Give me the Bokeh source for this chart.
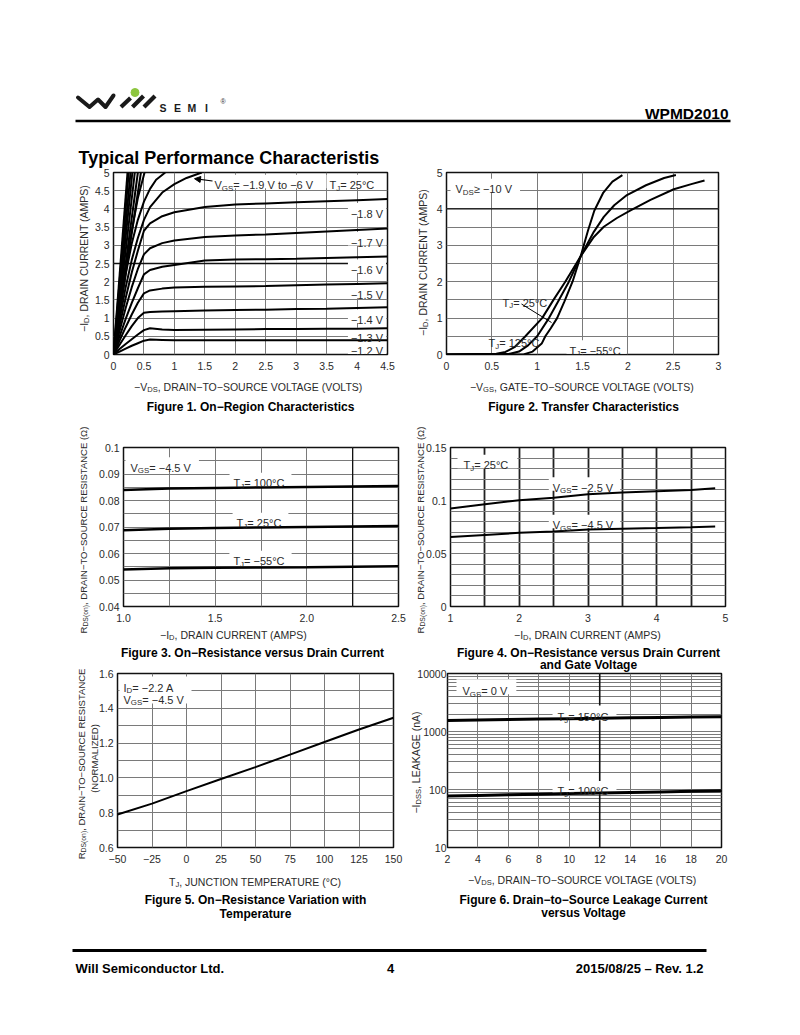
import math
from bokeh.plotting import figure
from bokeh.models import Range1d, FixedTicker, Label, Arrow, NormalHead, Span, GridBox
from bokeh.embed import file_html
from bokeh.resources import INLINE

FONT = "Liberation Sans"
TXT = "#2b2b2b"
GRID = "#7a7a7a"

# ---------------- Figure 1 data: On-Region Characteristics ----------------
F1_VDS = [0, 0.1, 0.2, 0.3, 0.4, 0.5, 0.6, 0.8, 1.0, 1.5, 2.0, 2.5, 3.0, 3.5, 4.0, 4.5]
F1_ID_M12 = [0, 0.08, 0.16, 0.24, 0.31, 0.38, 0.41, 0.40, 0.39, 0.39, 0.39, 0.39, 0.39, 0.39, 0.39, 0.39]
F1_ID_M13 = [0, 0.15, 0.29, 0.42, 0.55, 0.67, 0.72, 0.69, 0.67, 0.68, 0.69, 0.70, 0.70, 0.71, 0.71, 0.72]
F1_ID_M14 = [0, 0.27, 0.53, 0.78, 1.00, 1.15, 1.17, 1.18, 1.19, 1.21, 1.22, 1.23, 1.25, 1.26, 1.28, 1.30]
F1_ID_M15 = [0, 0.38, 0.75, 1.10, 1.42, 1.68, 1.76, 1.81, 1.84, 1.86, 1.87, 1.88, 1.90, 1.92, 1.94, 1.96]
F1_ID_M16 = [0, 0.50, 0.98, 1.42, 1.82, 2.20, 2.32, 2.41, 2.46, 2.58, 2.61, 2.62, 2.63, 2.65, 2.67, 2.69]
F1_ID_M17 = [0, 0.65, 1.28, 1.85, 2.35, 2.75, 2.92, 3.06, 3.13, 3.23, 3.27, 3.30, 3.34, 3.38, 3.42, 3.46]
F1_ID_M18 = [0, 0.80, 1.55, 2.25, 2.85, 3.40, 3.60, 3.80, 3.91, 4.05, 4.12, 4.15, 4.18, 4.21, 4.24, 4.27]
F1_M19_VDS = [0, 0.1, 0.2, 0.3, 0.4, 0.5, 0.6, 0.8, 1.0, 1.2, 1.45]
F1_M19_ID = [0, 0.95, 1.85, 2.60, 3.20, 3.70, 4.05, 4.45, 4.68, 4.85, 5.0]
F1_M20_VDS = [0, 0.1, 0.2, 0.3, 0.4, 0.5, 0.6, 0.7, 0.85]
F1_M20_ID = [0, 1.15, 2.20, 3.05, 3.70, 4.20, 4.55, 4.80, 5.0]
F1_M25_VDS = [0, 0.1, 0.2, 0.3, 0.4, 0.51]
F1_M25_ID = [0, 1.25, 2.40, 3.40, 4.30, 5.0]
F1_STEEP_VDS = [[0, 0.45], [0, 0.40], [0, 0.35], [0, 0.31], [0, 0.28], [0, 0.25], [0, 0.23]]
F1_STEEP_ID = [[0, 5.0], [0, 5.0], [0, 5.0], [0, 5.0], [0, 5.0], [0, 5.0], [0, 5.0]]
F1_XT = [0, 0.5, 1, 1.5, 2, 2.5, 3, 3.5, 4, 4.5]
F1_XL = ["0", "0.5", "1", "1.5", "2", "2.5", "3", "3.5", "4", "4.5"]
F1_YT = [0, 0.5, 1, 1.5, 2, 2.5, 3, 3.5, 4, 4.5, 5]
F1_YL = ["0", "0.5", "1", "1.5", "2", "2.5", "3", "3.5", "4", "4.5", "5"]
F1_CURVE_LABELS = ["−1.8 V", "−1.7 V", "−1.6 V", "−1.5 V", "−1.4 V", "−1.3 V", "−1.2 V"]

# ---------------- Figure 2 data: Transfer Characteristics ----------------
F2_VGS_M55 = [0, 0.85, 0.95, 1.05, 1.09, 1.15, 1.22, 1.30, 1.39, 1.48, 1.56, 1.63, 1.73, 1.83, 1.94]
F2_ID_M55 = [0, 0, 0.08, 0.30, 0.50, 0.72, 1.00, 1.45, 2.00, 2.70, 3.40, 3.95, 4.45, 4.75, 4.93]
F2_VGS_25 = [0, 0.70, 0.80, 0.90, 1.00, 1.13, 1.24, 1.35, 1.48, 1.625, 1.735, 1.85, 1.99, 2.20, 2.40, 2.53]
F2_ID_25 = [0, 0.02, 0.08, 0.25, 0.50, 1.00, 1.50, 2.00, 2.70, 3.37, 3.78, 4.10, 4.38, 4.65, 4.85, 4.93]
F2_VGS_125 = [0, 0.55, 0.65, 0.75, 0.87, 1.055, 1.18, 1.31, 1.48, 1.625, 1.735, 1.88, 2.03, 2.25, 2.507, 2.70, 2.846]
F2_ID_125 = [0, 0.02, 0.07, 0.20, 0.50, 1.00, 1.50, 2.00, 2.70, 3.23, 3.51, 3.75, 3.96, 4.25, 4.54, 4.68, 4.78]
F2_XT = [0, 0.5, 1, 1.5, 2, 2.5, 3]
F2_XL = ["0", "0.5", "1", "1.5", "2", "2.5", "3"]
F2_YT = [0, 1, 2, 3, 4, 5]
F2_YL = ["0", "1", "2", "3", "4", "5"]

# ---------------- Figure 3 data: On-Resistance vs Drain Current ----------------
F3_ID = [1.0, 1.25, 1.5, 1.75, 2.0, 2.25, 2.5]
F3_R_100 = [0.0840, 0.0845, 0.0847, 0.0849, 0.0851, 0.0853, 0.0855]
F3_R_25 = [0.0688, 0.0693, 0.0696, 0.0698, 0.0700, 0.0702, 0.0704]
F3_R_M55 = [0.0540, 0.0544, 0.0546, 0.0547, 0.0548, 0.0550, 0.0552]
F3_XT = [1.0, 1.5, 2.0, 2.5]
F3_XL = ["1.0", "1.5", "2.0", "2.5"]
F3_YT = [0.04, 0.05, 0.06, 0.07, 0.08, 0.09, 0.1]
F3_YL = ["0.04", "0.05", "0.06", "0.07", "0.08", "0.09", "0.1"]

# ---------------- Figure 4 data: On-Resistance vs Drain Current and Gate Voltage ----------------
F4_ID = [1, 1.5, 2, 2.5, 3, 3.5, 4, 4.5, 4.85]
F4_R_VGS25 = [0.0925, 0.0965, 0.1003, 0.1025, 0.1058, 0.1075, 0.1088, 0.1100, 0.1115]
F4_R_VGS45 = [0.0655, 0.0675, 0.0695, 0.0708, 0.0726, 0.0733, 0.0740, 0.0748, 0.0755]
F4_XT = [1, 2, 3, 4, 5]
F4_XL = ["1", "2", "3", "4", "5"]
F4_YT = [0, 0.05, 0.1, 0.15]
F4_YL = ["0", "0.05", "0.1", "0.15"]

# ---------------- Figure 5 data: On-Resistance vs Temperature ----------------
F5_TJ = [-50, -25, 0, 25, 50, 75, 100, 125, 150]
F5_RNORM = [0.79, 0.852, 0.924, 0.994, 1.062, 1.134, 1.206, 1.278, 1.346]
F5_XT = [-50, -25, 0, 25, 50, 75, 100, 125, 150]
F5_XL = ["−50", "−25", "0", "25", "50", "75", "100", "125", "150"]
F5_YT = [0.6, 0.8, 1.0, 1.2, 1.4, 1.6]
F5_YL = ["0.6", "0.8", "1.0", "1.2", "1.4", "1.6"]

# ---------------- Figure 6 data: Drain-to-Source Leakage ----------------
F6_VDS = [2, 4, 6, 8, 10, 12, 14, 16, 18, 20]
F6_IDSS_150 = [1550, 1580, 1610, 1640, 1665, 1690, 1720, 1745, 1775, 1800]
F6_IDSS_100 = [77, 79, 81, 83, 85, 87, 89, 91, 93, 95]
F6_XT = [2, 4, 6, 8, 10, 12, 14, 16, 18, 20]
F6_XL = ["2", "4", "6", "8", "10", "12", "14", "16", "18", "20"]
F6_YT = [10, 100, 1000, 10000]
F6_YL = ["10", "100", "1000", "10000"]

# ---------------- text helpers ----------------
AW = {' ': 278, '!': 278, '(': 333, ')': 333, ',': 278, '-': 333, '.': 278, '/': 278, ':': 278,
      '=': 584, '≥': 549, '°': 400, 'Ω': 768, '−': 584, '–': 556}
for _c in "0123456789":
    AW[_c] = 556
AW.update(dict(A=667, B=667, C=722, D=722, E=667, F=611, G=778, H=722, I=278, J=500, K=667, L=556,
               M=833, N=722, O=778, P=667, Q=778, R=722, S=667, T=611, U=722, V=667, W=944, X=667,
               Y=667, Z=611))
AW.update(dict(a=556, b=556, c=500, d=556, e=556, f=278, g=556, h=556, i=222, j=222, k=500, l=222,
               m=833, n=556, o=556, p=556, q=556, r=333, s=500, t=278, u=556, v=500, w=722, x=500,
               y=500, z=500))


def tw(s, size):
    return sum(AW.get(c, 556) for c in s) * size / 1000.0


def lab(p, x, y, text, size, align="left", bold=False, color="black", angle=0.0):
    p.add_layout(Label(x=x, y=y, x_range_name="px", y_range_name="py", text=text,
                       text_font=FONT, text_font_size=f"{size}px",
                       text_font_style="bold" if bold else "normal", text_color=color,
                       text_align=align, text_baseline="alphabetic", angle=angle))


def rich(p, x, y, segs, size=11, align="left", vertical=False, color=TXT, box=False, pad=3):
    """x,y: page coords. y (or x when vertical) is the middle of the capitals."""
    sub = 0.72
    widths = [tw(t, size * sub if s else size) for t, s in segs]
    total = sum(widths)
    pos = {"left": 0.0, "center": -total / 2.0, "right": -total}[align]
    if box:
        p.quad(left=[x + pos - pad], right=[x + pos + total + pad],
               top=[y - size * 0.62], bottom=[y + size * 0.62],
               x_range_name="px", y_range_name="py", fill_color="white", line_color=None)
    for (t, s), w in zip(segs, widths):
        fs = round(size * sub if s else size, 2)
        shift = 0.25 * size if s else 0.0
        if vertical:
            lab(p, x + 0.36 * size + shift, y - pos, t, fs, color=color, angle=math.pi / 2)
        else:
            lab(p, x + pos, y + 0.36 * size + shift, t, fs, color=color)
        pos += w


def caption(p, x, y, text, size=12):
    lab(p, x, y + 0.36 * size, text, size, align="center", bold=True, color="black")


def make_chart(fig_box, frame_box, xr, yr, xticks, xlabels, yticks, ylabels, ylog=False):
    fl, ft, fr, fb = fig_box
    l, t, r, b = frame_box
    p = figure(width=fr - fl, height=fb - ft, x_range=Range1d(*xr), y_range=Range1d(*yr),
               y_axis_type="log" if ylog else "linear", output_backend="svg",
               toolbar_location=None, title=None,
               min_border_left=l - fl, min_border_right=fr - r,
               min_border_top=t - ft, min_border_bottom=fb - b)
    p.extra_x_ranges = {"px": Range1d(l, r)}
    p.extra_y_ranges = {"py": Range1d(b, t)}
    p.outline_line_color = "#111111"
    p.outline_line_width = 1.5
    p.background_fill_color = None
    p.border_fill_color = None
    p.xaxis.ticker = FixedTicker(ticks=xticks)
    p.yaxis.ticker = FixedTicker(ticks=yticks)
    p.xaxis.major_label_overrides = {k: v for k, v in zip(xticks, xlabels)}
    p.yaxis.major_label_overrides = {k: v for k, v in zip(yticks, ylabels)}
    for ax in p.axis:
        ax.axis_line_color = None
        ax.major_tick_line_color = None
        ax.minor_tick_line_color = None
        ax.major_tick_out = 0
        ax.major_tick_in = 0
        ax.minor_tick_out = 0
        ax.minor_tick_in = 0
        ax.major_label_text_font = FONT
        ax.major_label_text_font_size = "10.5px"
        ax.major_label_text_color = TXT
    p.xaxis.major_label_standoff = 7
    p.yaxis.major_label_standoff = 4
    p.grid.grid_line_color = GRID
    p.grid.grid_line_width = 1
    return p


def steps(a, b, d):
    n = int(round((b - a) / d))
    return [round(a + i * d, 6) for i in range(n + 1)]


def dark_line(p, loc, dim, color="#111111", width=1.3):
    p.add_layout(Span(location=loc, dimension=dim, line_color=color, line_width=width, level="underlay"))


# ---------------- page geometry (figure boxes: left, top, right, bottom) ----------------
BOX_P1 = (1, 166, 405, 420)
BOX_P2 = (408, 166, 797, 420)
BOX_P3 = (2, 420, 410, 668)
BOX_P4 = (409, 420, 798, 668)
BOX_P5 = (3, 668, 406, 930)
BOX_P6 = (407, 668, 799, 930)

# ================= Page layer (header, footer, axis titles, captions) =================
bg = figure(width=800, height=1000, x_range=Range1d(0, 800), y_range=Range1d(1000, 0),
            x_axis_type=None, y_axis_type=None, output_backend="svg", toolbar_location=None,
            title=None, min_border=0)
bg.extra_x_ranges = {"px": Range1d(0, 800)}
bg.extra_y_ranges = {"py": Range1d(1000, 0)}
bg.outline_line_color = None
bg.grid.visible = False
bg.background_fill_color = "white"
bg.border_fill_color = "white"

# header (logo drawn as simple strokes)
bg.line([77.5, 89.0, 97.5, 105.0, 113.0], [97.0, 106.5, 99.0, 106.5, 95.0],
        line_width=4, color="#1a1a1a", line_join="round", line_cap="round")
bg.multi_line([[120.5, 130.0], [132.0, 143.0], [143.5, 154.5]], [[106.5, 97.5], [106.5, 95.5], [106.5, 95.5]],
              line_width=4.2, color="#1a1a1a")
bg.scatter([134.5], [92.0], size=8, color="#8dc63f")
for _x, _ch in zip([159.0, 173.5, 187.0, 204.5], ["S", "E", "M", "I"]):
    lab(bg, _x, 107.5, _ch, 10.5, bold=True, color="#1a1a1a")
lab(bg, 220.0, 101.0, "®", 7, color="#333333")
lab(bg, 728.0, 113.0, "WPMD2010", 15.5, align="right", bold=True)
bg.line([75, 730], [120.5, 120.5], line_width=2.4, color="black")
lab(bg, 78.0, 157.0, "Typical Performance Characteristis", 18, bold=True)

# footer
bg.line([72, 706], [950, 950], line_width=3, color="black")
lab(bg, 75, 968, "Will Semiconductor Ltd.", 13, bold=True)
lab(bg, 390, 968, "4", 13, align="center", bold=True)
lab(bg, 703, 968, "2015/08/25 – Rev. 1.2", 13, align="right", bold=True)

# axis titles and captions
rich(bg, 79.5, 258, [("−I", 0), ("D", 1), (", DRAIN CURRENT (AMPS)", 0)], size=10.5, align="center", vertical=True)
rich(bg, 249, 382.5, [("−V", 0), ("DS", 1), (", DRAIN−TO−SOURCE VOLTAGE (VOLTS)", 0)], size=10.5, align="center")
caption(bg, 250, 402.5, "Figure 1. On−Region Characteristics")

rich(bg, 418.5, 262, [("−I", 0), ("D", 1), (", DRAIN CURRENT (AMPS)", 0)], size=10.5, align="center", vertical=True)
rich(bg, 583, 382.5, [("−V", 0), ("GS", 1), (", GATE−TO−SOURCE VOLTAGE (VOLTS)", 0)], size=10.5, align="center")
caption(bg, 583, 402.5, "Figure 2. Transfer Characteristics")

rich(bg, 79.5, 529, [("R", 0), ("DS(on)", 1), (", DRAIN−TO−SOURCE RESISTANCE (Ω)", 0)],
     size=9.5, align="center", vertical=True)
rich(bg, 233, 631, [("−I", 0), ("D", 1), (", DRAIN CURRENT (AMPS)", 0)], size=10.5, align="center")
caption(bg, 252, 648, "Figure 3. On−Resistance versus Drain Current")

rich(bg, 416.5, 529, [("R", 0), ("DS(on)", 1), (", DRAIN−TO−SOURCE RESISTANCE (Ω)", 0)],
     size=9.5, align="center", vertical=True)
rich(bg, 587, 631, [("−I", 0), ("D", 1), (", DRAIN CURRENT (AMPS)", 0)], size=10.5, align="center")
caption(bg, 588, 648, "Figure 4. On−Resistance versus Drain Current")
caption(bg, 588, 660.5, "and Gate Voltage")

rich(bg, 77.5, 763, [("R", 0), ("DS(on)", 1), (", DRAIN−TO−SOURCE RESISTANCE", 0)],
     size=9.5, align="center", vertical=True)
rich(bg, 90.5, 758, [("(NORMALIZED)", 0)], size=9.5, align="center", vertical=True)
rich(bg, 255, 878, [("T", 0), ("J", 1), (", JUNCTION TEMPERATURE (°C)", 0)], size=10.5, align="center")
caption(bg, 255, 895.5, "Figure 5. On−Resistance Variation with")
caption(bg, 255, 909, "Temperature")

rich(bg, 412.0, 762, [("−I", 0), ("DSS", 1), (", LEAKAGE (nA)", 0)], size=10.5, align="center", vertical=True)
rich(bg, 583, 876, [("−V", 0), ("DS", 1), (", DRAIN−TO−SOURCE VOLTAGE (VOLTS)", 0)], size=10.5, align="center")
caption(bg, 583, 895, "Figure 6. Drain−to−Source Leakage Current")
caption(bg, 583, 908.5, "versus Voltage")

# ================= Figure 1 =================
p1 = make_chart(BOX_P1, (113, 172, 387, 354), (0, 4.5), (0, 5), F1_XT, F1_XL, F1_YT, F1_YL)
p1.xgrid.ticker = FixedTicker(ticks=F1_XT)
p1.ygrid.ticker = FixedTicker(ticks=F1_YT)
dark_line(p1, 2.5, "width")
rich(p1, 214, 181, [("V", 0), ("GS", 1), (" = −1.9 V to −6 V", 0)], box=True)
rich(p1, 329, 181, [("T", 0), ("J", 1), (" = 25°C", 0)], box=True)
for _lbl, _y in zip(F1_CURVE_LABELS, [209.3, 238.3, 265.7, 291.0, 315.7, 334.0, 346.7]):
    rich(p1, 366.5, _y, [(_lbl, 0)], align="center", box=True, pad=3)
for _arr in [F1_ID_M12, F1_ID_M13, F1_ID_M14, F1_ID_M15, F1_ID_M16, F1_ID_M17, F1_ID_M18]:
    p1.line(F1_VDS, _arr, line_width=2, color="black")
p1.line(F1_M19_VDS, F1_M19_ID, line_width=2, color="black")
p1.line(F1_M20_VDS, F1_M20_ID, line_width=2, color="black")
p1.line(F1_M25_VDS, F1_M25_ID, line_width=2, color="black")
p1.multi_line(F1_STEEP_VDS, F1_STEEP_ID, line_width=2, color="black")
p1.add_layout(Arrow(end=NormalHead(size=6, fill_color="black", line_color="black"),
                    x_start=212, y_start=180.5, x_end=194, y_end=178.2,
                    x_range_name="px", y_range_name="py", line_width=1.2, line_color="black"))

# ================= Figure 2 =================
p2 = make_chart(BOX_P2, (446, 172, 718, 354), (0, 3), (0, 5), F2_XT, F2_XL, F2_YT, F2_YL)
p2.xgrid.ticker = FixedTicker(ticks=steps(0, 3, 0.5))
p2.ygrid.ticker = FixedTicker(ticks=steps(0, 5, 0.5))
dark_line(p2, 4, "width")
rich(p2, 455, 185, [("V", 0), ("DS", 1), (" ≥ −10 V", 0)], box=True, pad=5)
rich(p2, 569, 346.5, [("T", 0), ("J", 1), (" = −55°C", 0)], box=True, pad=3)
p2.line(F2_VGS_M55, F2_ID_M55, line_width=2, color="black")
p2.line(F2_VGS_25, F2_ID_25, line_width=2, color="black")
p2.line(F2_VGS_125, F2_ID_125, line_width=2, color="black")
rich(p2, 502, 298.5, [("T", 0), ("J", 1), (" = 25°C", 0)])
rich(p2, 488, 339, [("T", 0), ("J", 1), (" = 125°C", 0)])
p2.add_layout(Arrow(end=None, x_start=521, y_start=303.5, x_end=551, y_end=322,
                    x_range_name="px", y_range_name="py", line_width=1, line_color="black"))

# ================= Figure 3 =================
p3 = make_chart(BOX_P3, (123, 447, 398, 606), (1.0, 2.5), (0.04, 0.1), F3_XT, F3_XL, F3_YT, F3_YL)
p3.xgrid.ticker = FixedTicker(ticks=steps(1.0, 2.5, 0.25))
p3.ygrid.ticker = FixedTicker(ticks=steps(0.04, 0.1, 0.005))
dark_line(p3, 2.25, "height")
rich(p3, 130, 463.5, [("V", 0), ("GS", 1), (" = −4.5 V", 0)], box=True, pad=5)
rich(p3, 260, 479.0, [("T", 0), ("J", 1), (" = 100°C", 0)], align="center", box=True, pad=4)
rich(p3, 260, 519.0, [("T", 0), ("J", 1), (" = 25°C", 0)], align="center", box=True, pad=4)
rich(p3, 260, 557.0, [("T", 0), ("J", 1), (" = −55°C", 0)], align="center", box=True, pad=4)
p3.line(F3_ID, F3_R_100, line_width=2.5, color="black")
p3.line(F3_ID, F3_R_25, line_width=2.5, color="black")
p3.line(F3_ID, F3_R_M55, line_width=2.5, color="black")

# ================= Figure 4 =================
p4 = make_chart(BOX_P4, (450, 447, 725, 606), (1, 5), (0, 0.15), F4_XT, F4_XL, F4_YT, F4_YL)
p4.xgrid.ticker = FixedTicker(ticks=steps(1, 5, 0.5))
p4.ygrid.ticker = FixedTicker(ticks=steps(0, 0.15, 0.01))
p4.xgrid.grid_line_color = "#222222"
p4.xgrid.grid_line_width = 1.8
rich(p4, 463, 461, [("T", 0), ("J", 1), (" = 25°C", 0)], box=True, pad=6)
rich(p4, 584, 483.5, [("V", 0), ("GS", 1), (" = −2.5 V", 0)], align="center", box=True, pad=4)
rich(p4, 584, 521, [("V", 0), ("GS", 1), (" = −4.5 V", 0)], align="center", box=True, pad=4)
p4.line(F4_ID, F4_R_VGS25, line_width=2, color="black")
p4.line(F4_ID, F4_R_VGS45, line_width=2, color="black")

# ================= Figure 5 =================
p5 = make_chart(BOX_P5, (117, 673, 393, 847), (-50, 150), (0.6, 1.6), F5_XT, F5_XL, F5_YT, F5_YL)
p5.xgrid.ticker = FixedTicker(ticks=F5_XT)
p5.ygrid.ticker = FixedTicker(ticks=steps(0.6, 1.6, 0.1))
p5.quad(left=[119], right=[191], top=[676], bottom=[703], x_range_name="px", y_range_name="py",
        fill_color="white", line_color=None)
rich(p5, 123, 683.5, [("I", 0), ("D", 1), (" = −2.2 A", 0)])
rich(p5, 123, 695.5, [("V", 0), ("GS", 1), (" = −4.5 V", 0)])
p5.line(F5_TJ, F5_RNORM, line_width=2, color="black")

# ================= Figure 6 =================
p6 = make_chart(BOX_P6, (447, 673, 721, 847), (2, 20), (10, 10000), F6_XT, F6_XL, F6_YT, F6_YL,
                ylog=True)
p6.yaxis.major_label_standoff = 1
p6.xgrid.ticker = FixedTicker(ticks=F6_XT)
p6.ygrid.ticker = FixedTicker(ticks=F6_YT, minor_ticks=[m * 10 ** k for k in range(1, 4) for m in range(2, 10)])
p6.ygrid.minor_grid_line_color = GRID
p6.ygrid.minor_grid_line_width = 1
dark_line(p6, 12, "height", width=1.6)
rich(p6, 462, 685, [("V", 0), ("GS", 1), (" = 0 V", 0)], box=True, pad=6)
rich(p6, 584, 709, [("T", 0), ("J", 1), (" = 150°C", 0)], align="center", box=True, pad=5)
rich(p6, 584, 782.5, [("T", 0), ("J", 1), (" = 100°C", 0)], align="center", box=True, pad=5)
p6.line(F6_VDS, F6_IDSS_150, line_width=3, color="black")
p6.line(F6_VDS, F6_IDSS_100, line_width=3, color="black")

# ---------------- grid assembly: unique track edges per figure so frames keep their own borders ----------------
items = [(bg, (0, 0, 800, 1000)), (p1, BOX_P1), (p2, BOX_P2), (p3, BOX_P3),
         (p4, BOX_P4), (p5, BOX_P5), (p6, BOX_P6)]
XS = sorted({b[0] for _, b in items} | {b[2] for _, b in items})
YS = sorted({b[1] for _, b in items} | {b[3] for _, b in items})
children = []
for fig, (l, t, r, b) in items:
    c0, c1 = XS.index(l), XS.index(r)
    r0, r1 = YS.index(t), YS.index(b)
    children.append((fig, r0, c0, r1 - r0, c1 - c0))
page = GridBox(children=children,
               rows=[f"{YS[i + 1] - YS[i]}px" for i in range(len(YS) - 1)],
               cols=[f"{XS[i + 1] - XS[i]}px" for i in range(len(XS) - 1)])
open("out.html", "w").write(file_html(page, INLINE))
